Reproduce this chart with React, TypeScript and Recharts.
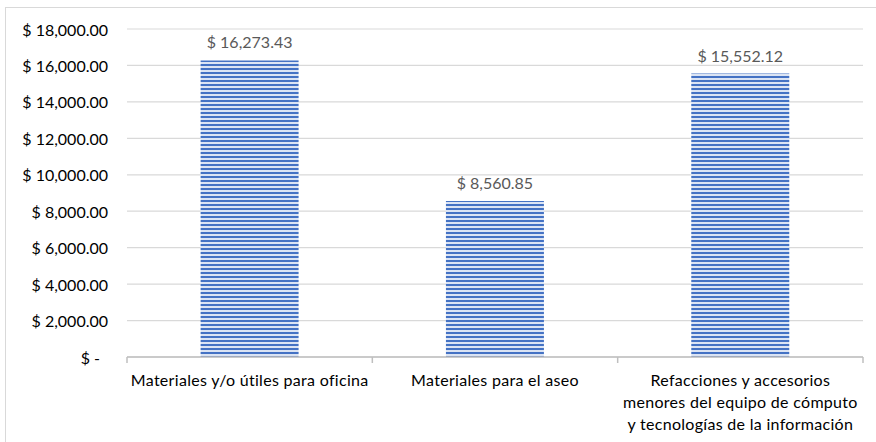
import React from "react";
import { BarChart, Bar, XAxis, YAxis, CartesianGrid, LabelList } from "recharts";

const categories = [
  "Materiales y/o útiles para oficina",
  "Materiales para el aseo",
  "Refacciones y accesorios\nmenores del equipo de cómputo\ny tecnologías de la información",
];
const amounts = [16273.43, 8560.85, 15552.12];
const yTicks = [0, 2000, 4000, 6000, 8000, 10000, 12000, 14000, 16000, 18000];

const data = categories.map((name, i) => ({ name, value: amounts[i] }));

const W = 876;
const H = 442;
const MARGIN = { top: 29, right: 13, bottom: 0, left: 7 };
const Y_W = 120;
const X_H = 85;
const FONT = "Lato, 'Open Sans', sans-serif";

const fmt = (v: number) =>
  "$ " + v.toLocaleString("en-US", { minimumFractionDigits: 2, maximumFractionDigits: 2 });

const YTick = (props: any) => {
  const { x, y, payload } = props;
  const v = payload.value as number;
  const text = v === 0 ? "$ -" : fmt(v);
  const xx = v === 0 ? x - 19 : x - 11;
  return (
    <text x={xx} y={y + 6.5} textAnchor="end" fontSize={16} fontFamily={FONT} fill="#000">
      {text}
    </text>
  );
};

const plotWidth = W - MARGIN.left - MARGIN.right - Y_W;
const band = plotWidth / categories.length;

const XTick = (props: any) => {
  const { x, y, payload, index } = props;
  const lines = String(payload.value).split("\n");
  const half = band / 2;
  return (
    <g>
      <line x1={x - half} x2={x - half} y1={y} y2={y + 6} stroke="#bfbfbf" strokeWidth={1.5} />
      {index === categories.length - 1 && (
        <line x1={x + half} x2={x + half} y1={y} y2={y + 6} stroke="#bfbfbf" strokeWidth={1.5} />
      )}
      {lines.map((l, i) => (
        <text
          key={i}
          x={x}
          y={y + 29 + i * 22}
          textAnchor="middle"
          fontSize={16}
          letterSpacing={0.3}
          fontFamily={FONT}
          fill="#000"
        >
          {l}
        </text>
      ))}
    </g>
  );
};

const BarLabel = (props: any) => {
  const { x, y, width, value } = props;
  return (
    <text
      x={x + width / 2}
      y={y - 12}
      textAnchor="middle"
      fontSize={16}
      fontFamily={FONT}
      fill="#595959"
    >
      {fmt(value)}
    </text>
  );
};

export default function App() {
  return (
    <div style={{ position: "absolute", left: 0, top: 0, width: W, height: H, overflow: "hidden", background: "#fff" }}>
      <svg width={0} height={0} style={{ position: "absolute" }}>
        <defs>
          <pattern id="stripes" patternUnits="userSpaceOnUse" width={8} height={4}>
            <rect x={0} y={0} width={8} height={4} fill="#dbe4f4" />
            <rect x={0} y={0} width={8} height={2} fill="#4472c4" />
          </pattern>
        </defs>
      </svg>
      <div
        style={{
          position: "absolute",
          left: 5,
          top: 7,
          width: W + 10,
          height: H + 10,
          borderLeft: "1px solid #d9d9d9",
          borderTop: "1px solid #d9d9d9",
        }}
      />
      <div style={{ position: "absolute", left: 0, top: 0 }}>
        <BarChart width={W} height={H} data={data} margin={MARGIN} barCategoryGap="30%">
          <CartesianGrid vertical={false} stroke="#d9d9d9" strokeWidth={1.2} />
          <XAxis
            dataKey="name"
            height={X_H}
            interval={0}
            tickLine={false}
            tickSize={0}
            tickMargin={0}
            axisLine={{ stroke: "#bfbfbf", strokeWidth: 1.5 }}
            tick={<XTick />}
          />
          <YAxis
            width={Y_W}
            domain={[0, 18000]}
            ticks={yTicks}
            axisLine={false}
            tickLine={false}
            tick={<YTick />}
          />
          <Bar dataKey="value" fill="url(#stripes)" isAnimationActive={false}>
            <LabelList dataKey="value" content={<BarLabel />} />
          </Bar>
        </BarChart>
      </div>
    </div>
  );
}
